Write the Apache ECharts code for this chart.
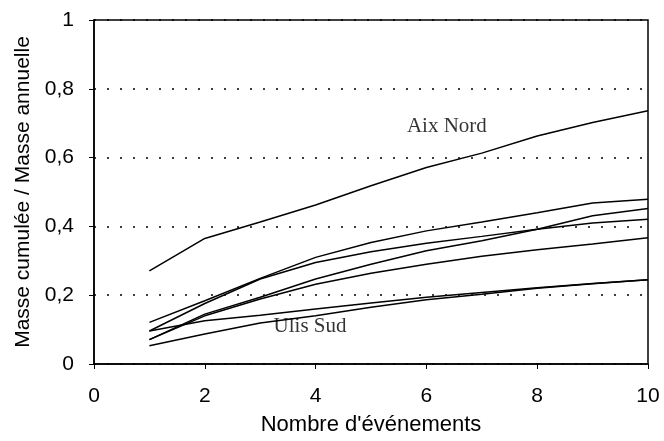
<!DOCTYPE html>
<html>
<head>
<meta charset="utf-8">
<script src="https://cdn.jsdelivr.net/npm/echarts@6/dist/echarts.min.js"></script>
<style>
  html, body { margin: 0; padding: 0; background: #fff; }
  #chart { width: 664px; height: 441px; }
</style>
</head>
<body>
<div id="chart"></div>
<script>
// nombre d'événements
const events = [1, 2, 3, 4, 5, 6, 7, 8, 9, 10]
// masse cumulée / masse annuelle, une courbe par site
const aixNord = [0.271, 0.365, 0.413, 0.462, 0.518, 0.571, 0.613, 0.663, 0.702, 0.736]
const site2 = [0.121, 0.184, 0.249, 0.310, 0.353, 0.387, 0.413, 0.440, 0.468, 0.479]
const site3 = [0.096, 0.176, 0.247, 0.295, 0.326, 0.351, 0.371, 0.392, 0.410, 0.421]
const site4 = [0.071, 0.145, 0.194, 0.247, 0.290, 0.329, 0.358, 0.392, 0.431, 0.452]
const site5 = [0.071, 0.140, 0.189, 0.232, 0.264, 0.290, 0.313, 0.332, 0.349, 0.367]
const ulisSud = [0.096, 0.126, 0.142, 0.160, 0.177, 0.194, 0.208, 0.222, 0.234, 0.245]
const site7 = [0.053, 0.087, 0.119, 0.140, 0.165, 0.187, 0.203, 0.220, 0.233, 0.245]
// étiquettes dans le graphique : [x, y, texte]
const annotations = [
  [6.37, 0.69, 'Aix Nord'],
  [3.9, 0.11, 'Ulis Sud']
]

const curves = [aixNord, site2, site3, site4, site5, ulisSud, site7]

const chart = echarts.init(document.getElementById('chart'))

const lineSeries = curves.map(function (vals) {
  return {
    type: 'line',
    data: events.map(function (x, i) { return [x, vals[i]] }),
    showSymbol: false,
    symbol: 'none',
    lineStyle: { color: '#000', width: 1.5 },
    silent: true
  }
})

chart.setOption({
  animation: false,
  backgroundColor: '#fff',
  grid: {
    left: 94,
    right: 16,
    top: 20,
    bottom: 76,
    show: true,
    borderColor: '#000',
    borderWidth: 1.5
  },
  xAxis: {
    type: 'value',
    min: 0,
    max: 10,
    interval: 2,
    name: "Nombre d'événements",
    nameLocation: 'middle',
    nameGap: 50,
    nameTextStyle: { fontFamily: 'Liberation Sans', fontSize: 22, color: '#000' },
    axisLine: { lineStyle: { color: '#000', width: 1.5 } },
    axisTick: { length: 5, lineStyle: { color: '#000' } },
    axisLabel: { fontFamily: 'Liberation Sans', fontSize: 21, color: '#000', margin: 22 },
    splitLine: { show: false }
  },
  yAxis: {
    type: 'value',
    min: 0,
    max: 1,
    interval: 0.2,
    name: 'Masse cumulée / Masse annuelle',
    nameLocation: 'middle',
    nameGap: 58,
    nameTextStyle: { fontFamily: 'Liberation Sans', fontSize: 21, color: '#000' },
    axisLine: { lineStyle: { color: '#000', width: 1.5 } },
    axisTick: { length: 5, lineStyle: { color: '#000' } },
    axisLabel: {
      fontFamily: 'Liberation Sans',
      fontSize: 21,
      color: '#000',
      margin: 20,
      formatter: function (v) { return String(Math.round(v * 10) / 10).replace('.', ',') }
    },
    splitLine: { lineStyle: { color: '#000', width: 1.5, type: [2, 11] } }
  },
  series: lineSeries.concat([{
    type: 'scatter',
    symbolSize: 0,
    silent: true,
    data: annotations,
    label: {
      show: true,
      position: 'inside',
      formatter: function (p) { return p.data[2] },
      fontFamily: 'Liberation Serif',
      fontSize: 21,
      color: '#000'
    }
  }])
})
</script>
</body>
</html>
